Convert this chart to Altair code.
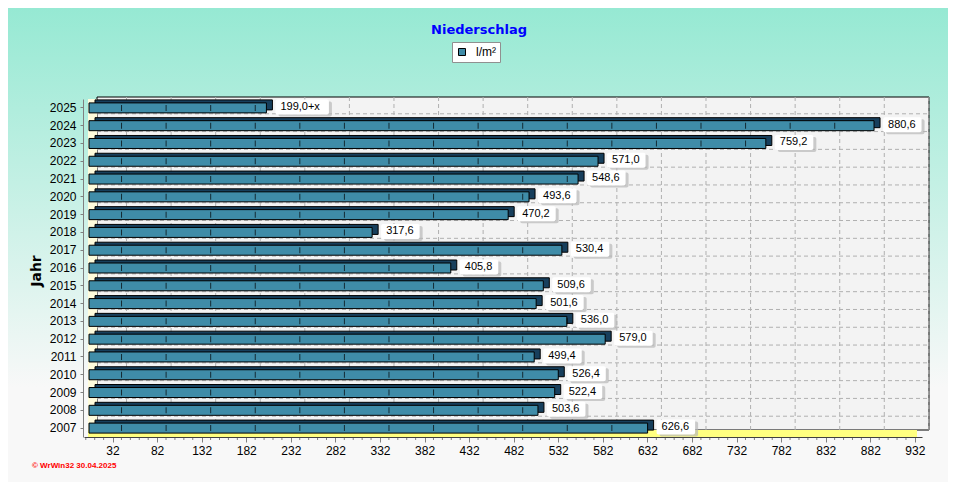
import altair as alt
import pandas as pd

# ---- data ----
years = [2025, 2024, 2023, 2022, 2021, 2020, 2019, 2018, 2017, 2016,
         2015, 2014, 2013, 2012, 2011, 2010, 2009, 2008, 2007]
values = [199.0, 880.6, 759.2, 571.0, 548.6, 493.6, 470.2, 317.6, 530.4, 405.8,
          509.6, 501.6, 536.0, 579.0, 499.4, 526.4, 522.4, 503.6, 626.6]
labels = ["199,0+x", "880,6", "759,2", "571,0", "548,6", "493,6", "470,2", "317,6",
          "530,4", "405,8", "509,6", "501,6", "536,0", "579,0", "499,4", "526,4",
          "522,4", "503,6", "626,6"]
series_name = "l/m²"
x_ticks = list(range(32, 933, 50))
title_text = "Niederschlag"
y_title = "Jahr"
footer = "© WrWin32  30.04.2025"

# ---- layout ----
W, H = 838, 338
XMAX = 940
PPU = W / XMAX
FONT = "Liberation Sans"
TEAL = "#3f8ca8"
DARK = "#173f5c"

year_str = [str(y) for y in years]
df = pd.DataFrame({"year": year_str, "value": values, "label": labels,
                   "series": series_name})
df["tick"] = [[t for t in x_ticks if t < v] for v in values]
one = pd.DataFrame({"a": [0]})
ticks_df = pd.DataFrame({"t": x_ticks})
minor_df = pd.DataFrame({"t": [t for t in range(2, 933, 10) if (t - 32) % 50 != 0]})

x_scale = alt.Scale(domain=[0, XMAX], nice=False, zero=False)
x_axis = alt.Axis(values=x_ticks, labelFont=FONT, labelFontSize=12, labelColor="black",
                  tickSize=5, tickColor="#808080", domainColor="#404040",
                  labelPadding=3, grid=False, title=None, labelFlush=False, zindex=2)
y_scale = alt.Scale(paddingInner=0, paddingOuter=0)
y_axis = alt.Axis(labelFont=FONT, labelFontSize=12, labelColor="black", tickSize=3,
                  tickColor="#808080", domainColor="#808080", labelPadding=4,
                  title=None, offset=1, grid=False, zindex=2)


def X(field):
    return alt.X(field, type="quantitative", scale=x_scale, axis=x_axis)


def Y():
    return alt.Y("year:N", sort=year_str, scale=y_scale, axis=y_axis)


bg = alt.Chart(one).mark_rect(
    fill=alt.LinearGradient(gradient="linear",
                            stops=[alt.GradientStop(offset=0, color="#96e9d3"),
                                   alt.GradientStop(offset=0.8, color="#f8f8f8")],
                            x1=0, x2=0, y1=0, y2=1)
).encode(x=alt.value(-76), x2=alt.value(W + 26), y=alt.value(-91), y2=alt.value(H + 45))

back = alt.Chart(one).mark_rect(fill="#f3f3f3", stroke="black", strokeWidth=1).encode(
    x=alt.value(13), x2=alt.value(845), y=alt.value(-2), y2=alt.value(H - 7))

hgrid = alt.Chart(df[df["year"] != "2007"]).mark_rule(
    color="#b0b0b0", strokeDash=[4, 3], yOffset=H / 19 / 2 - 3).encode(
    y=Y(), x=alt.value(13), x2=alt.value(845))

vgrid = alt.Chart(ticks_df).mark_rule(color="#b0b0b0", strokeDash=[4, 3], xOffset=14).encode(
    x=X("t"), y=alt.value(-2), y2=alt.value(H - 7))

lwall = alt.Chart(one).mark_rect(fill="#fffcdc").encode(
    x=alt.value(4), x2=alt.value(13), y=alt.value(0), y2=alt.value(H))

floor = alt.Chart(one).mark_rect(fill="#ffff80").encode(
    x=alt.value(4), x2=alt.value(W - 5), y=alt.value(H - 7), y2=alt.value(H))

minor = alt.Chart(minor_df).mark_rule(color="#808080").encode(
    x=X("t"), y=alt.value(H), y2=alt.value(H + 3))

bar_back = alt.Chart(df).mark_bar(size=10, color=DARK, stroke="black", strokeWidth=1,
                                  xOffset=11, yOffset=-3).encode(x=X("value"), y=Y())

bar_front = alt.Chart(df).mark_bar(size=10, stroke="black", strokeWidth=1, xOffset=5).encode(
    x=X("value"), y=Y(),
    color=alt.Color("series:N", scale=alt.Scale(domain=[series_name], range=[TEAL]),
                    legend=alt.Legend(title=None, orient="none", legendX=368, legendY=-57,
                                      fillColor="white", strokeColor="#909090", padding=4,
                                      symbolType="square", symbolSize=49,
                                      symbolStrokeColor="black", symbolStrokeWidth=1,
                                      labelFont=FONT, labelFontSize=12, labelOffset=8,
                                      labelColor="black")))

dots = alt.Chart(df).transform_flatten(["tick"]).mark_tick(
    color="black", thickness=1, size=6, strokeDash=[1, 2], xOffset=9, orient="vertical").encode(
    x=X("tick"), y=Y())

box_calc = f"datum.value + (length(datum.label) * 7.5 + 1) / {PPU}"
shadow = alt.Chart(df).transform_calculate(x2v=box_calc).mark_bar(
    size=15, color="#b8b8b8", opacity=0.7, cornerRadius=2, xOffset=17, x2Offset=17,
    yOffset=1).encode(x=X("value"), x2="x2v:Q", y=Y())
box = alt.Chart(df).transform_calculate(x2v=box_calc).mark_bar(
    size=15, color="white", cornerRadius=2, xOffset=14, x2Offset=14,
    yOffset=-1).encode(x=X("value"), x2="x2v:Q", y=Y())
txt = alt.Chart(df).mark_text(font=FONT, fontSize=11, color="black", align="left",
                              baseline="middle", xOffset=19, yOffset=-1).encode(
    x=X("value"), y=Y(), text="label:N")

title = alt.Chart(one).mark_text(text=title_text, font="DejaVu Sans", fontSize=13,
                                 fontWeight="bold", color="#0000ff", align="center",
                                 baseline="middle").encode(x=alt.value(395), y=alt.value(-69))
ytitle = alt.Chart(one).mark_text(text=y_title, font="DejaVu Sans", fontSize=14,
                                  fontWeight="bold", color="black", angle=270,
                                  align="center", baseline="middle").encode(
    x=alt.value(-47), y=alt.value(172))
foot = alt.Chart(one).mark_text(text=footer, font=FONT, fontSize=8, fontWeight="bold",
                                color="#ff0000", align="left", baseline="middle").encode(
    x=alt.value(-52), y=alt.value(367))

chart = alt.layer(bg, back, hgrid, vgrid, lwall, floor, minor, bar_back, bar_front, dots,
                  shadow, box, txt, title, ytitle, foot).properties(
    width=W, height=H,
    autosize=alt.AutoSizeParams(type="none"),
    padding={"left": 76, "top": 91, "right": 26, "bottom": 45},
).configure_view(stroke=None).configure(background="#f8f8f8")

chart.save("out.html", embed_options={"renderer": "svg", "actions": False})
